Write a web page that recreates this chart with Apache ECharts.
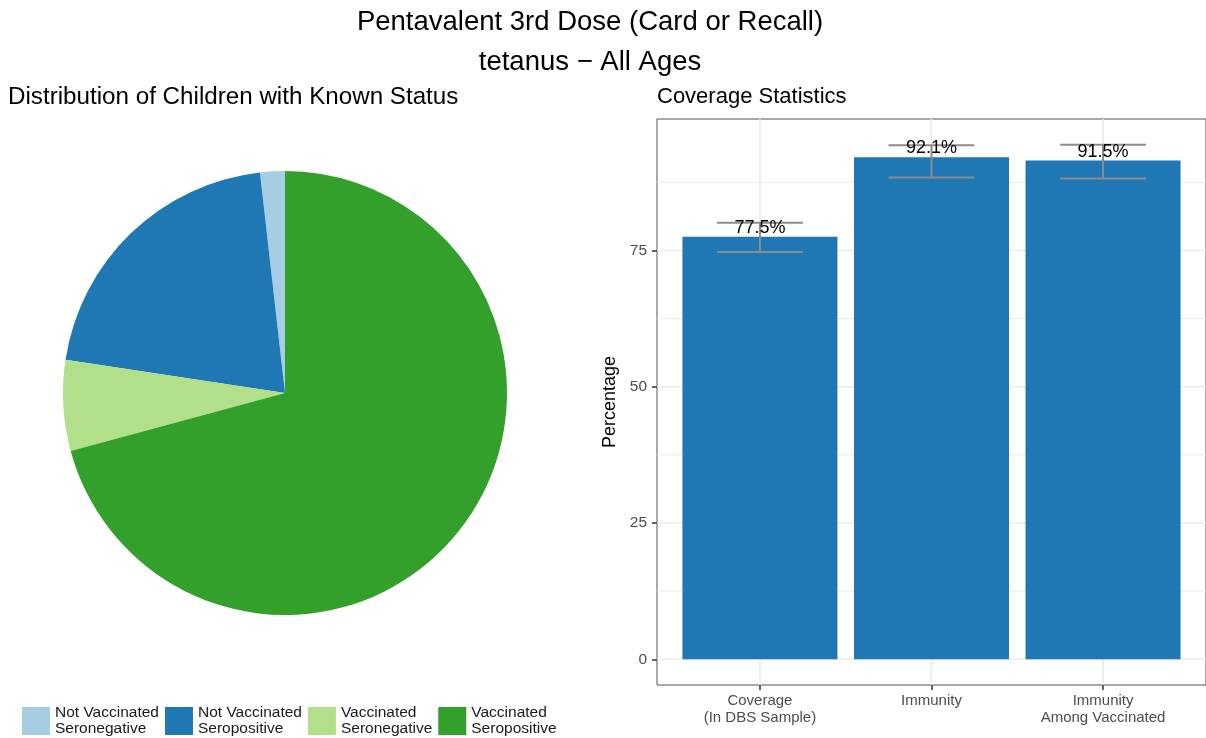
<!DOCTYPE html>
<html>
<head>
<meta charset="utf-8">
<title>Pentavalent 3rd Dose (Card or Recall) – tetanus</title>
<script src="https://cdn.jsdelivr.net/npm/echarts@6/dist/echarts.min.js"></script>
<style>
  html, body { margin: 0; padding: 0; background: #ffffff; }
  #chart { width: 1206px; height: 738px; }
</style>
</head>
<body>
<div id="chart"></div>
<script>
// Serostatus of children with known vaccination status (percent of children)
const statusNames = [
  'Not Vaccinated Seronegative',
  'Not Vaccinated Seropositive',
  'Vaccinated Seronegative',
  'Vaccinated Seropositive'
];
const statusShares = [1.8, 20.8, 6.6, 70.8];
const statusColors = ['#A6CEE3', '#1F78B4', '#B2DF8A', '#33A02C'];

// Coverage statistics with confidence intervals
const categories = ['Coverage\n(In DBS Sample)', 'Immunity', 'Immunity\nAmong Vaccinated'];
const coverageValues = [77.5, 92.1, 91.5];
const ciLower = [74.7, 88.4, 88.2];
const ciUpper = [80.1, 94.3, 94.4];
const yTicks = [0, 25, 50, 75];
const yMinorTicks = [12.5, 37.5, 62.5, 87.5];

const FONT = '"Liberation Sans", Arial, Helvetica, sans-serif';

// ggplot-style continuous expansion: 5% of the data range on both ends
const yTop = Math.max(...ciUpper);
const yPad = yTop * 0.05;
// discrete axis positions 1..n with 0.6 units of padding
const xPos = categories.map((_, i) => i + 1);
const xMin = 0.4, xMax = categories.length + 0.6;

const barData = xPos.map((x, i) => [x, coverageValues[i]]);
const errData = xPos.map((x, i) => [x, ciLower[i], ciUpper[i], coverageValues[i]]);
// panel grid lines: [orientation (0 = horizontal, 1 = vertical), value, line width]
const gridData = [
  ...yMinorTicks.map(v => [0, v, 1]),
  ...yTicks.map(v => [0, v, 1.6]),
  ...xPos.map(v => [1, v, 1.6])
];

const chart = echarts.init(document.getElementById('chart'), null, { renderer: 'canvas' });

const option = {
  animation: false,
  backgroundColor: '#ffffff',
  textStyle: { fontFamily: FONT },
  title: [
    {
      text: 'Pentavalent 3rd Dose (Card or Recall)\ntetanus \u2212 All Ages',
      left: 590, top: 2, textAlign: 'center', padding: 0,
      textStyle: { fontFamily: FONT, fontSize: 27.5, fontWeight: 'normal', color: '#000', lineHeight: 40 }
    },
    {
      text: 'Distribution of Children with Known Status',
      left: 8, top: 85, padding: 0,
      textStyle: { fontFamily: FONT, fontSize: 24.2, fontWeight: 'normal', color: '#000' }
    },
    {
      text: 'Coverage Statistics',
      left: 657, top: 86, padding: 0,
      textStyle: { fontFamily: FONT, fontSize: 22, fontWeight: 'normal', color: '#000' }
    }
  ],
  legend: {
    data: statusNames,
    left: 22, top: 705, padding: 0,
    orient: 'horizontal',
    icon: 'rect',
    itemWidth: 28, itemHeight: 28, itemGap: 6,
    selectedMode: false,
    formatter: name => name.replace(/ (Sero)/, '\n$1'),
    textStyle: { fontFamily: FONT, fontSize: 15.5, color: '#1a1a1a', lineHeight: 16 }
  },
  grid: {
    left: 657, top: 119, width: 552, height: 566,
    show: true, borderColor: '#555555', borderWidth: 1, backgroundColor: '#ffffff'
  },
  xAxis: {
    type: 'value',
    min: xMin, max: xMax,
    axisLine: { show: false, onZero: false },
    splitLine: { show: false },
    axisTick: { show: true, customValues: xPos, length: 5, lineStyle: { color: '#333', width: 1.5 } },
    axisLabel: {
      show: true, customValues: xPos,
      formatter: v => categories[Math.round(v) - 1] || '',
      fontFamily: FONT, fontSize: 15, color: '#4D4D4D', lineHeight: 17, margin: 7
    }
  },
  yAxis: {
    type: 'value',
    min: -yPad, max: yTop + yPad,
    name: 'Percentage',
    nameLocation: 'middle', nameRotate: 90, nameGap: 38,
    nameTextStyle: { fontFamily: FONT, fontSize: 18, color: '#000' },
    axisLine: { show: false, onZero: false },
    splitLine: { show: false },
    axisTick: { show: true, customValues: yTicks, length: 5, lineStyle: { color: '#333', width: 1.5 } },
    axisLabel: {
      show: true, customValues: yTicks,
      fontFamily: FONT, fontSize: 15.5, color: '#4D4D4D', margin: 10
    }
  },
  series: [
    {
      // panel grid lines, behind the bars
      type: 'custom',
      data: gridData,
      z: 1,
      silent: true,
      renderItem: (params, api) => {
        const vertical = api.value(0) === 1;
        const v = api.value(1);
        const a = vertical ? api.coord([v, -yPad]) : api.coord([xMin, v]);
        const b = vertical ? api.coord([v, yTop + yPad]) : api.coord([xMax, v]);
        return {
          type: 'line',
          shape: { x1: a[0], y1: a[1], x2: b[0], y2: b[1] },
          style: { stroke: '#EBEBEB', lineWidth: api.value(2) }
        };
      }
    },
    {
      type: 'bar',
      data: barData,
      barWidth: 155,
      z: 2,
      itemStyle: { color: '#1F78B4' }
    },
    {
      // confidence interval whiskers and value labels
      type: 'custom',
      data: errData,
      z: 3,
      silent: true,
      renderItem: (params, api) => {
        const x = api.value(0);
        const lo = api.coord([x, api.value(1)]);
        const hi = api.coord([x, api.value(2)]);
        const top = api.coord([x, api.value(3)]);
        const half = api.size([0.25, 0])[0];
        const stroke = { stroke: '#8C8C8C', lineWidth: 2 };
        return {
          type: 'group',
          children: [
            { type: 'line', shape: { x1: lo[0], y1: lo[1], x2: hi[0], y2: hi[1] }, style: stroke },
            { type: 'line', shape: { x1: lo[0] - half, y1: lo[1], x2: lo[0] + half, y2: lo[1] }, style: stroke },
            { type: 'line', shape: { x1: hi[0] - half, y1: hi[1], x2: hi[0] + half, y2: hi[1] }, style: stroke },
            {
              type: 'text',
              x: top[0], y: top[1] - 9,
              style: {
                text: api.value(3).toFixed(1) + '%',
                fontFamily: FONT, fontSize: 18, fill: '#000',
                align: 'center', verticalAlign: 'middle'
              }
            }
          ]
        };
      }
    },
    {
      type: 'pie',
      center: [285, 393],
      radius: 222,
      startAngle: 90,
      clockwise: false,
      label: { show: false },
      labelLine: { show: false },
      emphasis: { disabled: true },
      itemStyle: { borderWidth: 0 },
      data: statusNames.map((n, i) => ({ name: n, value: statusShares[i], itemStyle: { color: statusColors[i] } }))
    }
  ]
};

chart.setOption(option);
</script>
</body>
</html>
